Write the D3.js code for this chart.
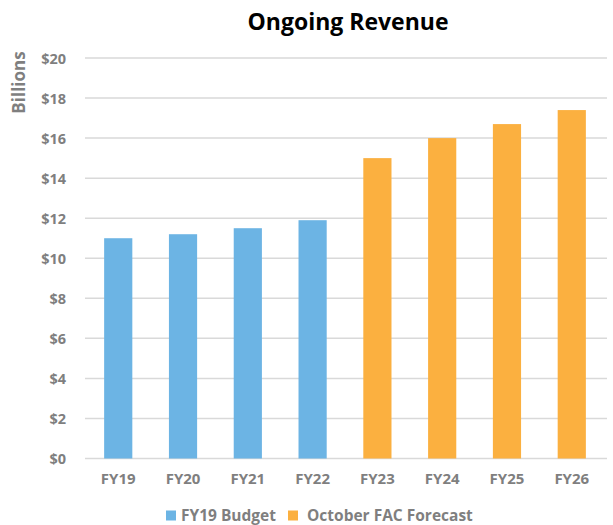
<!DOCTYPE html>
<html><head><meta charset="utf-8">
<script src="https://cdn.jsdelivr.net/npm/d3@7"></script>
<style>
body{margin:0;background:#fff;}
text{font-family:"Open Sans",sans-serif;}
</style></head>
<body><svg id="c" width="613" height="525"></svg>
<script>
const categories = ["FY19","FY20","FY21","FY22","FY23","FY24","FY25","FY26"];
const values = [11.0, 11.2, 11.5, 11.9, 15.0, 16.0, 16.7, 17.4];
const seriesOf = ["FY19 Budget","FY19 Budget","FY19 Budget","FY19 Budget","October FAC Forecast","October FAC Forecast","October FAC Forecast","October FAC Forecast"];
const seriesNames = ["FY19 Budget","October FAC Forecast"];
const seriesColors = ["#6CB4E4","#FBB040"];
const yTicks = [0,2,4,6,8,10,12,14,16,18,20];

const svg = d3.select("#c");
const x = d3.scaleBand().domain(categories).range([86, 604]).paddingInner(0.565).paddingOuter(0.28);
const y = d3.scaleLinear().domain([0,20]).range([458.5, 58]);
const color = d3.scaleOrdinal().domain(seriesNames).range(seriesColors);

// gridlines
svg.append("g").selectAll("line").data(yTicks).join("line")
  .attr("x1",85).attr("x2",607)
  .attr("y1",d=>y(d)).attr("y2",d=>y(d))
  .attr("stroke","#d9d9d9").attr("stroke-width",1.5);

// y axis labels
const yAxis = d3.axisLeft(y).tickValues(yTicks).tickFormat(d=>"$"+d).tickSize(0).tickPadding(0);
const yg = svg.append("g").attr("transform","translate(66,0)").call(yAxis);
yg.select(".domain").remove();
yg.selectAll("text").attr("fill","#7f7f7f").style("font-size","14.5px").style("font-weight","700").attr("dy","0.35em");

// x axis
const xAxis = d3.axisBottom(x).tickSize(0).tickPadding(0);
const xg = svg.append("g").attr("transform","translate(0,0)").call(xAxis);
xg.select(".domain").remove();
xg.selectAll("text").attr("fill","#7f7f7f").style("font-size","15px").style("font-weight","700").attr("y",473).attr("dy","0.71em");

// bars
svg.append("g").selectAll("rect").data(categories).join("rect")
  .attr("x",d=>x(d)).attr("width",x.bandwidth())
  .attr("y",(d,i)=>y(values[i])).attr("height",(d,i)=>y(0)-y(values[i]))
  .attr("fill",(d,i)=>color(seriesOf[i]));

// title
svg.append("text").attr("x",348).attr("y",29.5).attr("text-anchor","middle")
  .style("font-size","23px").style("font-weight","700").attr("fill","#000").text("Ongoing Revenue");

// y title
svg.append("text").attr("transform","translate(25,82.5) rotate(-90)").attr("text-anchor","middle")
  .style("font-size","17px").style("font-weight","700").attr("fill","#7f7f7f").text("Billions");

// legend
const lg = svg.append("g");
const legX = [166, 288];
const legTextX = [181, 307];
seriesNames.forEach((s,i)=>{
  lg.append("rect").attr("x",legX[i]).attr("y",510.5).attr("width",10).attr("height",10).attr("fill",color(s));
  lg.append("text").attr("x",legTextX[i]).attr("y",515.5).attr("dy","0.35em")
    .style("font-size","15.5px").style("font-weight","700").attr("fill","#7f7f7f").text(s);
});
</script></body></html>
